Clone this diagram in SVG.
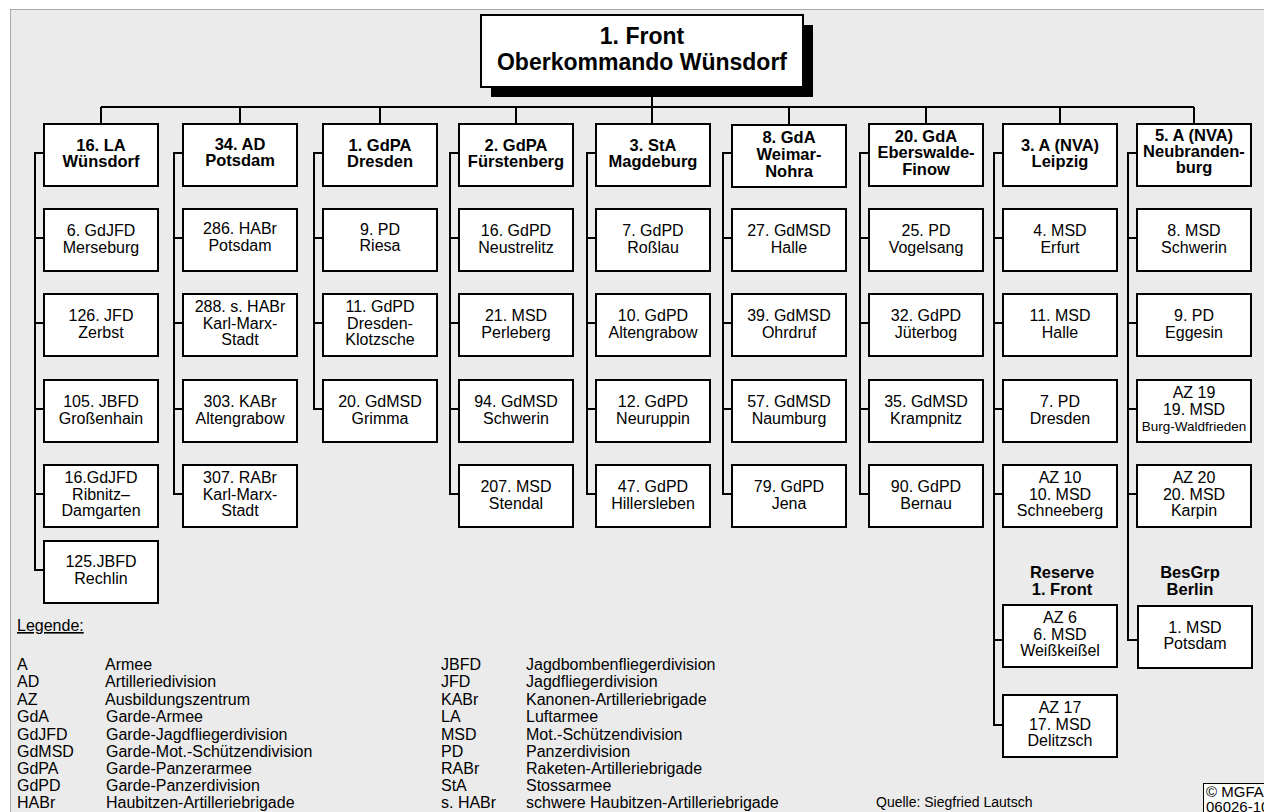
<svg xmlns="http://www.w3.org/2000/svg" width="1264" height="812" viewBox="0 0 1264 812">
<style>
.bg{fill:#ebebeb;stroke:#a9a9a9;stroke-width:1}
.box{fill:#fff;stroke:#000;stroke-width:2}
.ln{fill:none;stroke:#000;stroke-width:2}
.top{font-family:"Liberation Sans",Arial,sans-serif;font-weight:bold;font-size:23px;text-anchor:middle;fill:#000}
.hd{font-family:"Liberation Sans",Arial,sans-serif;font-weight:bold;font-size:16.5px;text-anchor:middle;fill:#000}
.tx{font-family:"Liberation Sans",Arial,sans-serif;font-size:16px;text-anchor:middle;fill:#000}
.sm{font-family:"Liberation Sans",Arial,sans-serif;font-size:13.5px;text-anchor:middle;fill:#000}
.lg{font-family:"Liberation Sans",Arial,sans-serif;font-size:16px;fill:#000}
.q{font-family:"Liberation Sans",Arial,sans-serif;font-size:14px;fill:#000}
.c{font-family:"Liberation Sans",Arial,sans-serif;font-size:15px;fill:#000}
</style>
<rect width="1264" height="812" fill="#fff"/>
<rect class="bg" x="10.5" y="9.5" width="1260" height="810"/>

<g id="connectors">
<line class="ln" x1="652" y1="87" x2="652" y2="124"/>
<line class="ln" x1="101" y1="107" x2="1194" y2="107"/>
<line class="ln" x1="101" y1="107" x2="101" y2="124"/>
<line class="ln" x1="240" y1="107" x2="240" y2="124"/>
<line class="ln" x1="380" y1="107" x2="380" y2="124"/>
<line class="ln" x1="516" y1="107" x2="516" y2="124"/>
<line class="ln" x1="789" y1="107" x2="789" y2="124"/>
<line class="ln" x1="926" y1="107" x2="926" y2="124"/>
<line class="ln" x1="1060" y1="107" x2="1060" y2="124"/>
<line class="ln" x1="1194" y1="107" x2="1194" y2="124"/>
<path class="ln" d="M44 153H35V570H44M35 238H44M35 323H44M35 409H44M35 494H44"/>
<path class="ln" d="M183 153H174V494H183M174 238H183M174 323H183M174 409H183"/>
<path class="ln" d="M323 153H314V409H323M314 238H323M314 323H323"/>
<path class="ln" d="M459 153H450V494H459M450 238H459M450 323H459M450 409H459"/>
<path class="ln" d="M596 153H587V494H596M587 238H596M587 323H596M587 409H596"/>
<path class="ln" d="M732 153H723V494H732M723 238H732M723 323H732M723 409H732"/>
<path class="ln" d="M869 153H860V494H869M860 238H869M860 323H869M860 409H869"/>
<path class="ln" d="M1003 153H994V725H1003M994 238H1003M994 323H1003M994 409H1003M994 494H1003M994 640H1003"/>
<path class="ln" d="M1137 153H1128V640H1137M1128 238H1137M1128 323H1137M1128 409H1137M1128 494H1137"/>
</g>

<g id="front">
<rect x="491" y="25" width="322" height="72" fill="#000"/>
<rect class="box" x="481" y="15" width="322" height="72"/>
<text class="top" x="642" y="44">1. Front</text>
<text class="top" x="642" y="70">Oberkommando Wünsdorf</text>
</g>

<g id="la16"><rect class="box" x="44" y="124" width="114" height="62"/><text class="hd" x="101" y="151">16. LA</text><text class="hd" x="101" y="167">Wünsdorf</text></g>
<g id="gdjfd6"><rect class="box" x="44" y="209" width="114" height="62"/><text class="tx" x="101" y="236">6. GdJFD</text><text class="tx" x="101" y="253">Merseburg</text></g>
<g id="jfd126"><rect class="box" x="44" y="294" width="114" height="62"/><text class="tx" x="101" y="321">126. JFD</text><text class="tx" x="101" y="338">Zerbst</text></g>
<g id="jbfd105"><rect class="box" x="44" y="380" width="114" height="62"/><text class="tx" x="101" y="407">105. JBFD</text><text class="tx" x="101" y="424">Großenhain</text></g>
<g id="gdjfd16"><rect class="box" x="44" y="465" width="114" height="62"/><text class="tx" x="101" y="483">16.GdJFD</text><text class="tx" x="101" y="499.5">Ribnitz–</text><text class="tx" x="101" y="516">Damgarten</text></g>
<g id="jbfd125"><rect class="box" x="44" y="541" width="114" height="62"/><text class="tx" x="101" y="567">125.JBFD</text><text class="tx" x="101" y="584">Rechlin</text></g>

<g id="ad34"><rect class="box" x="183" y="124" width="114" height="62"/><text class="hd" x="240" y="150">34. AD</text><text class="hd" x="240" y="166">Potsdam</text></g>
<g id="habr286"><rect class="box" x="183" y="209" width="114" height="62"/><text class="tx" x="240" y="234">286. HABr</text><text class="tx" x="240" y="251">Potsdam</text></g>
<g id="shabr288"><rect class="box" x="183" y="294" width="114" height="62"/><text class="tx" x="240" y="312">288. s. HABr</text><text class="tx" x="240" y="328.5">Karl-Marx-</text><text class="tx" x="240" y="345">Stadt</text></g>
<g id="kabr303"><rect class="box" x="183" y="380" width="114" height="62"/><text class="tx" x="240" y="407">303. KABr</text><text class="tx" x="240" y="424">Altengrabow</text></g>
<g id="rabr307"><rect class="box" x="183" y="465" width="114" height="62"/><text class="tx" x="240" y="483">307. RABr</text><text class="tx" x="240" y="499.5">Karl-Marx-</text><text class="tx" x="240" y="516">Stadt</text></g>

<g id="gdpa1"><rect class="box" x="323" y="124" width="114" height="62"/><text class="hd" x="380" y="151">1. GdPA</text><text class="hd" x="380" y="167">Dresden</text></g>
<g id="pd9"><rect class="box" x="323" y="209" width="114" height="62"/><text class="tx" x="380" y="235">9. PD</text><text class="tx" x="380" y="251">Riesa</text></g>
<g id="gdpd11"><rect class="box" x="323" y="294" width="114" height="62"/><text class="tx" x="380" y="312">11. GdPD</text><text class="tx" x="380" y="328.5">Dresden-</text><text class="tx" x="380" y="345">Klotzsche</text></g>
<g id="gdmsd20"><rect class="box" x="323" y="380" width="114" height="62"/><text class="tx" x="380" y="407">20. GdMSD</text><text class="tx" x="380" y="424">Grimma</text></g>

<g id="gdpa2"><rect class="box" x="459" y="124" width="114" height="62"/><text class="hd" x="516" y="151">2. GdPA</text><text class="hd" x="516" y="167">Fürstenberg</text></g>
<g id="gdpd16"><rect class="box" x="459" y="209" width="114" height="62"/><text class="tx" x="516" y="236">16. GdPD</text><text class="tx" x="516" y="253">Neustrelitz</text></g>
<g id="msd21"><rect class="box" x="459" y="294" width="114" height="62"/><text class="tx" x="516" y="321">21. MSD</text><text class="tx" x="516" y="338">Perleberg</text></g>
<g id="gdmsd94"><rect class="box" x="459" y="380" width="114" height="62"/><text class="tx" x="516" y="407">94. GdMSD</text><text class="tx" x="516" y="424">Schwerin</text></g>
<g id="msd207"><rect class="box" x="459" y="465" width="114" height="62"/><text class="tx" x="516" y="492">207. MSD</text><text class="tx" x="516" y="509">Stendal</text></g>

<g id="sta3"><rect class="box" x="596" y="124" width="114" height="62"/><text class="hd" x="653" y="151">3. StA</text><text class="hd" x="653" y="167">Magdeburg</text></g>
<g id="gdpd7"><rect class="box" x="596" y="209" width="114" height="62"/><text class="tx" x="653" y="236">7. GdPD</text><text class="tx" x="653" y="253">Roßlau</text></g>
<g id="gdpd10"><rect class="box" x="596" y="294" width="114" height="62"/><text class="tx" x="653" y="321">10. GdPD</text><text class="tx" x="653" y="338">Altengrabow</text></g>
<g id="gdpd12"><rect class="box" x="596" y="380" width="114" height="62"/><text class="tx" x="653" y="407">12. GdPD</text><text class="tx" x="653" y="424">Neuruppin</text></g>
<g id="gdpd47"><rect class="box" x="596" y="465" width="114" height="62"/><text class="tx" x="653" y="492">47. GdPD</text><text class="tx" x="653" y="509">Hillersleben</text></g>

<g id="gda8"><rect class="box" x="732" y="125" width="114" height="62"/><text class="hd" x="789" y="143">8. GdA</text><text class="hd" x="789" y="160">Weimar-</text><text class="hd" x="789" y="177">Nohra</text></g>
<g id="gdmsd27"><rect class="box" x="732" y="209" width="114" height="62"/><text class="tx" x="789" y="236">27. GdMSD</text><text class="tx" x="789" y="253">Halle</text></g>
<g id="gdmsd39"><rect class="box" x="732" y="294" width="114" height="62"/><text class="tx" x="789" y="321">39. GdMSD</text><text class="tx" x="789" y="338">Ohrdruf</text></g>
<g id="gdmsd57"><rect class="box" x="732" y="380" width="114" height="62"/><text class="tx" x="789" y="407">57. GdMSD</text><text class="tx" x="789" y="424">Naumburg</text></g>
<g id="gdpd79"><rect class="box" x="732" y="465" width="114" height="62"/><text class="tx" x="789" y="492">79. GdPD</text><text class="tx" x="789" y="509">Jena</text></g>

<g id="gda20"><rect class="box" x="869" y="124" width="114" height="62"/><text class="hd" x="926" y="142">20. GdA</text><text class="hd" x="926" y="158">Eberswalde-</text><text class="hd" x="926" y="175">Finow</text></g>
<g id="pd25"><rect class="box" x="869" y="209" width="114" height="62"/><text class="tx" x="926" y="236">25. PD</text><text class="tx" x="926" y="253">Vogelsang</text></g>
<g id="gdpd32"><rect class="box" x="869" y="294" width="114" height="62"/><text class="tx" x="926" y="321">32. GdPD</text><text class="tx" x="926" y="338">Jüterbog</text></g>
<g id="gdmsd35"><rect class="box" x="869" y="380" width="114" height="62"/><text class="tx" x="926" y="407">35. GdMSD</text><text class="tx" x="926" y="424">Krampnitz</text></g>
<g id="gdpd90"><rect class="box" x="869" y="465" width="114" height="62"/><text class="tx" x="926" y="492">90. GdPD</text><text class="tx" x="926" y="509">Bernau</text></g>

<g id="a3"><rect class="box" x="1003" y="124" width="114" height="62"/><text class="hd" x="1060" y="151">3. A (NVA)</text><text class="hd" x="1060" y="167">Leipzig</text></g>
<g id="msd4"><rect class="box" x="1003" y="209" width="114" height="62"/><text class="tx" x="1060" y="236">4. MSD</text><text class="tx" x="1060" y="253">Erfurt</text></g>
<g id="msd11"><rect class="box" x="1003" y="294" width="114" height="62"/><text class="tx" x="1060" y="321">11. MSD</text><text class="tx" x="1060" y="338">Halle</text></g>
<g id="pd7"><rect class="box" x="1003" y="380" width="114" height="62"/><text class="tx" x="1060" y="407">7. PD</text><text class="tx" x="1060" y="424">Dresden</text></g>
<g id="az10"><rect class="box" x="1003" y="465" width="114" height="62"/><text class="tx" x="1060" y="483">AZ 10</text><text class="tx" x="1060" y="499.5">10. MSD</text><text class="tx" x="1060" y="516">Schneeberg</text></g>
<g id="reserve"><text class="hd" x="1062" y="578">Reserve</text><text class="hd" x="1062" y="595">1. Front</text></g>
<g id="az6"><rect class="box" x="1003" y="605" width="114" height="62"/><text class="tx" x="1060" y="623">AZ 6</text><text class="tx" x="1060" y="639.5">6. MSD</text><text class="tx" x="1060" y="656">Weißkeißel</text></g>
<g id="az17"><rect class="box" x="1003" y="695" width="114" height="62"/><text class="tx" x="1060" y="713">AZ 17</text><text class="tx" x="1060" y="729.5">17. MSD</text><text class="tx" x="1060" y="746">Delitzsch</text></g>

<g id="a5"><rect class="box" x="1137" y="124" width="114" height="62"/><text class="hd" x="1194" y="141">5. A (NVA)</text><text class="hd" x="1194" y="157">Neubranden-</text><text class="hd" x="1194" y="173">burg</text></g>
<g id="msd8"><rect class="box" x="1137" y="209" width="114" height="62"/><text class="tx" x="1194" y="236">8. MSD</text><text class="tx" x="1194" y="253">Schwerin</text></g>
<g id="pd9e"><rect class="box" x="1137" y="294" width="114" height="62"/><text class="tx" x="1194" y="321">9. PD</text><text class="tx" x="1194" y="338">Eggesin</text></g>
<g id="az19"><rect class="box" x="1137" y="380" width="114" height="62"/><text class="tx" x="1194" y="398">AZ 19</text><text class="tx" x="1194" y="415">19. MSD</text><text class="sm" x="1194" y="431">Burg-Waldfrieden</text></g>
<g id="az20"><rect class="box" x="1137" y="465" width="114" height="62"/><text class="tx" x="1194" y="483">AZ 20</text><text class="tx" x="1194" y="499.5">20. MSD</text><text class="tx" x="1194" y="516">Karpin</text></g>
<g id="besgrp"><text class="hd" x="1190" y="578">BesGrp</text><text class="hd" x="1190" y="595">Berlin</text></g>
<g id="msd1"><rect class="box" x="1138" y="606" width="114" height="62"/><text class="tx" x="1195" y="633">1. MSD</text><text class="tx" x="1195" y="649">Potsdam</text></g>

<g id="legend">
<text class="lg" x="17" y="631" text-decoration="underline">Legende:</text>
<text class="lg" x="17" y="670">A</text><text class="lg" x="105" y="670">Armee</text>
<text class="lg" x="17" y="687.3">AD</text><text class="lg" x="105" y="687.3">Artilleriedivision</text>
<text class="lg" x="17" y="705">AZ</text><text class="lg" x="105" y="705">Ausbildungszentrum</text>
<text class="lg" x="17" y="722.3">GdA</text><text class="lg" x="106" y="722.3">Garde-Armee</text>
<text class="lg" x="17" y="739.6">GdJFD</text><text class="lg" x="106" y="739.6">Garde-Jagdfliegerdivision</text>
<text class="lg" x="17" y="756.8">GdMSD</text><text class="lg" x="106" y="756.8">Garde-Mot.-Schützendivision</text>
<text class="lg" x="17" y="773.8">GdPA</text><text class="lg" x="106" y="773.8">Garde-Panzerarmee</text>
<text class="lg" x="17" y="791.1">GdPD</text><text class="lg" x="106" y="791.1">Garde-Panzerdivision</text>
<text class="lg" x="17" y="808.4">HABr</text><text class="lg" x="106" y="808.4">Haubitzen-Artilleriebrigade</text>
<text class="lg" x="441" y="670">JBFD</text><text class="lg" x="526" y="670">Jagdbombenfliegerdivision</text>
<text class="lg" x="441" y="687.3">JFD</text><text class="lg" x="526" y="687.3">Jagdfliegerdivision</text>
<text class="lg" x="441" y="705">KABr</text><text class="lg" x="526" y="705">Kanonen-Artilleriebrigade</text>
<text class="lg" x="441" y="722.3">LA</text><text class="lg" x="526" y="722.3">Luftarmee</text>
<text class="lg" x="441" y="739.6">MSD</text><text class="lg" x="526" y="739.6">Mot.-Schützendivision</text>
<text class="lg" x="441" y="756.8">PD</text><text class="lg" x="526" y="756.8">Panzerdivision</text>
<text class="lg" x="441" y="773.8">RABr</text><text class="lg" x="526" y="773.8">Raketen-Artilleriebrigade</text>
<text class="lg" x="441" y="791.1">StA</text><text class="lg" x="526" y="791.1">Stossarmee</text>
<text class="lg" x="441" y="808.4">s. HABr</text><text class="lg" x="526" y="808.4">schwere Haubitzen-Artilleriebrigade</text>
</g>

<g id="source"><text class="q" x="876" y="807">Quelle: Siegfried Lautsch</text></g>
<g id="copyright">
<rect x="1203.5" y="783.5" width="70" height="40" fill="#fff" stroke="#000" stroke-width="1"/>
<text class="c" x="1206" y="797">© MGFA</text>
<text class="c" x="1206" y="812">06026-10</text>
</g>
</svg>
